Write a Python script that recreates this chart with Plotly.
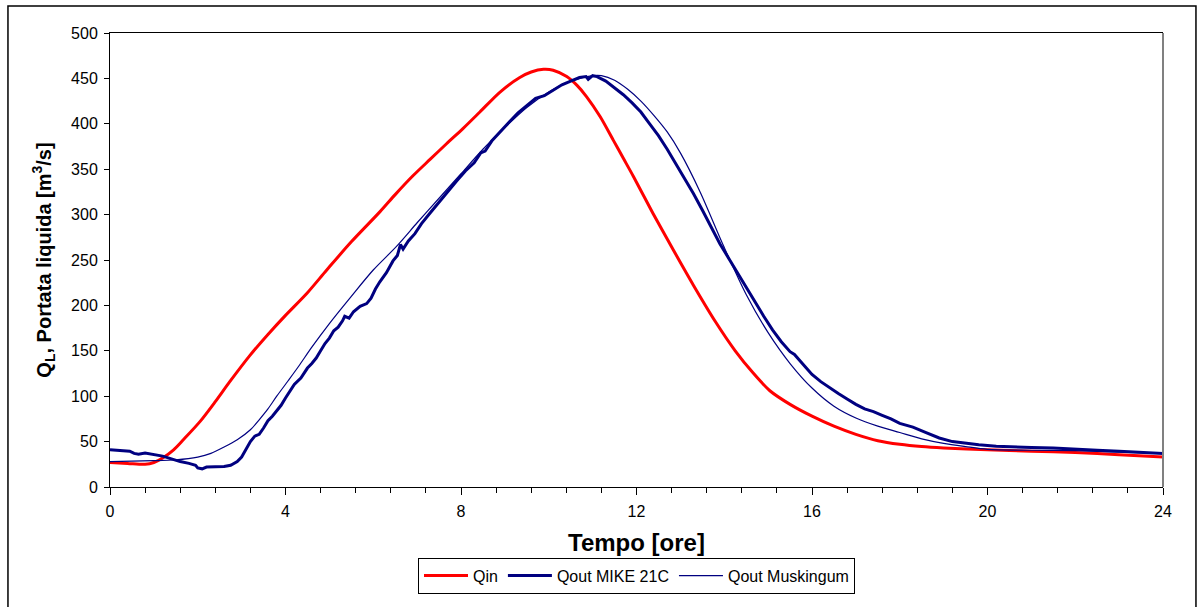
import plotly.graph_objects as go

# ---- data (hours, m3/s) ----
t_in = [0, 0.4, 0.8, 1.0, 1.2, 1.45, 1.67, 2.05, 2.4, 2.73, 3.19, 3.6, 4.0, 4.5, 4.94, 5.5, 6.15, 6.5,
        6.91, 7.3, 7.67, 8.05, 8.43, 8.89, 9.34, 9.6, 9.88, 10.1, 10.41, 10.65, 10.86, 11.17, 11.47,
        11.7, 11.93, 12.38, 12.84, 13.3, 13.8, 14.25, 14.65, 15.04, 15.5, 16.0, 16.5, 17.0, 17.5,
        18.0, 18.5, 19.0, 20.0, 21.0, 22.0, 23.0, 24]
q_in = [27, 26, 25, 27, 32, 41, 52, 72, 94, 116, 145, 168, 189, 214, 239, 270, 303, 322,
        343, 361, 378, 395, 413, 435, 451, 457, 460, 459, 452, 442, 430, 408, 382,
        362, 342, 301, 261, 222, 182, 150, 126, 106, 91, 78, 67, 58, 51,
        47, 44.5, 43, 41, 39.5, 38, 35.5, 33]

t_mike = [0, 0.3, 0.45, 0.55, 0.65, 0.8, 1.0, 1.2, 1.4, 1.6, 1.8, 1.95, 2.0, 2.1, 2.2, 2.4, 2.6, 2.75,
          2.9, 3.0, 3.1, 3.2, 3.3, 3.4, 3.5, 3.6, 3.7, 3.8, 3.9, 4.0, 4.1, 4.2, 4.35, 4.5, 4.6, 4.7,
          4.8, 4.9, 5.0, 5.1, 5.2, 5.3, 5.35, 5.45, 5.55, 5.7, 5.85, 5.95, 6.05, 6.15, 6.3, 6.45,
          6.55, 6.62, 6.68, 6.8, 6.95, 7.1, 7.3, 7.5, 7.7, 7.9, 8.1, 8.3, 8.45, 8.55, 8.7, 8.9,
          9.1, 9.3, 9.5, 9.7, 9.9, 10.1, 10.3, 10.5, 10.7, 10.85, 10.9, 11.0, 11.1, 11.3, 11.5,
          11.7, 11.9, 12.1, 12.3, 12.5, 12.7, 12.9, 13.1, 13.3, 13.5, 13.7, 13.9, 14.1, 14.3,
          14.5, 14.7, 14.9, 15.1, 15.3, 15.5, 15.6, 15.8, 16.0, 16.2, 16.4, 16.6, 16.8, 17.0,
          17.2, 17.4, 17.6, 17.8, 18.0, 18.3, 18.6, 18.9, 19.2, 19.5, 19.8, 20.2, 20.6, 21.0,
          21.5, 22.0, 22.5, 23.0, 23.5, 24]
q_mike = [41, 40.5, 39.5, 37, 36, 37.5, 36, 34, 31, 28, 26, 24, 21, 20, 22, 22, 22.5, 24,
          28, 33, 42, 50, 56, 58, 65, 73, 78, 84, 90, 98, 106, 113, 120, 131, 136, 142,
          150, 158, 164, 172, 176, 183, 188, 186, 193, 199, 202, 208, 218, 226, 236, 249,
          255, 267, 262, 271, 279, 290, 302, 314, 325, 337, 348, 357, 368, 370, 381, 392,
          402, 412, 420, 428, 431, 437, 443, 447, 451, 452, 449, 453, 452, 447, 440,
          432, 423, 413, 400, 387, 372, 356, 340, 323, 305, 286, 268, 252, 236,
          219, 203, 188, 173, 160, 149, 146, 135, 124, 116, 109, 103, 97, 91,
          86, 83, 79, 75, 70, 66, 60, 54, 50, 48, 46.5, 45, 44, 43.5,
          43, 41.5, 40.5, 39.5, 38.5, 37]

t_musk = [0, 0.5, 1.0, 1.5, 2.0, 2.3, 2.6, 2.9, 3.2, 3.4, 3.6, 3.8, 4.06, 4.3, 4.6, 5.0, 5.5, 6.0,
          6.53, 7.0, 7.5, 8.0, 8.5, 9.0, 9.5, 10.0, 10.5, 11.0, 11.2, 11.5, 11.8, 12.1, 12.4,
          12.7, 13.0, 13.45, 13.98, 14.5, 15.0, 15.5, 16.0, 16.5, 17.0, 17.5, 18.0, 18.5, 19.0,
          19.5, 20.0, 21, 22, 23, 24]
q_musk = [28, 28.5, 29, 30, 33, 37, 44, 52, 63, 74, 86, 100, 117, 133, 154, 180, 210, 239,
          265, 291, 318, 345, 372, 396, 418, 435, 447, 453, 453, 448, 438, 425, 409,
          391, 368, 325, 266, 212, 170, 136, 109, 89, 76, 67, 60, 53, 48,
          44.5, 41.5, 40.5, 40, 38.5, 37]

x_ticks = [0, 4, 8, 12, 16, 20, 24]
y_ticks = [0, 50, 100, 150, 200, 250, 300, 350, 400, 450, 500]

FONT = "Liberation Sans, Arial, sans-serif"

fig = go.Figure()
fig.add_trace(go.Scatter(x=t_in, y=q_in, mode="lines", name="Qin",
                         line=dict(color="#FF0000", width=3, shape="spline", smoothing=0.8)))
fig.add_trace(go.Scatter(x=t_mike, y=q_mike, mode="lines", name="Qout MIKE 21C",
                         line=dict(color="#000080", width=3)))
fig.add_trace(go.Scatter(x=t_musk, y=q_musk, mode="lines", name="Qout Muskingum",
                         line=dict(color="#000080", width=1.2, shape="spline", smoothing=0.8)))

fig.update_layout(
    width=1197, height=607,
    margin=dict(l=110, r=34, t=33, b=120),
    paper_bgcolor="white", plot_bgcolor="white",
    font=dict(family=FONT, size=16, color="black"),
    showlegend=True,
    legend=dict(orientation="h", x=0.5, xanchor="center", xref="paper",
                y=0.022, yanchor="bottom", yref="container",
                bordercolor="black", borderwidth=1, font=dict(size=16, family=FONT),
                tracegroupgap=0, itemwidth=44),
    xaxis=dict(range=[0, 24], tickvals=x_ticks, ticktext=[str(v) for v in x_ticks],
               ticks="outside", ticklen=7, tickcolor="black", showgrid=False, zeroline=False,
               showline=True, linecolor="black", linewidth=1, mirror=True, automargin=False,
               ticklabelstandoff=3,
               minor=dict(dtick=0.8, tick0=0, ticks="outside", ticklen=5, tickcolor="black"),
               title=dict(text="<b>Tempo [ore]</b>", font=dict(size=24, family=FONT), standoff=14),
               tickfont=dict(size=16, family=FONT)),
    yaxis=dict(range=[0, 500], tickvals=y_ticks, ticks="outside", ticklen=5, tickcolor="black",
               showgrid=False, zeroline=False, showline=True, linecolor="black", linewidth=1,
               automargin=False, ticklabelstandoff=3,
               title=dict(text="<b>Q<sub>L</sub>, Portata liquida [m<sup>3</sup>/s]</b>",
                          font=dict(size=20, family=FONT), standoff=14),
               tickfont=dict(size=16, family=FONT)),
    shapes=[
        # right border of plot area (gray)
        dict(type="line", xref="paper", yref="paper", x0=1, x1=1, y0=0, y1=1,
             line=dict(color="#808080", width=2)),
        # outer chart frame
        dict(type="rect", xref="paper", yref="paper", x0=-0.0969, x1=1.0313, y0=-0.28, y1=1.0595,
             line=dict(color="black", width=1.5), layer="below"),
    ],
)

fig.write_html("out.html")
